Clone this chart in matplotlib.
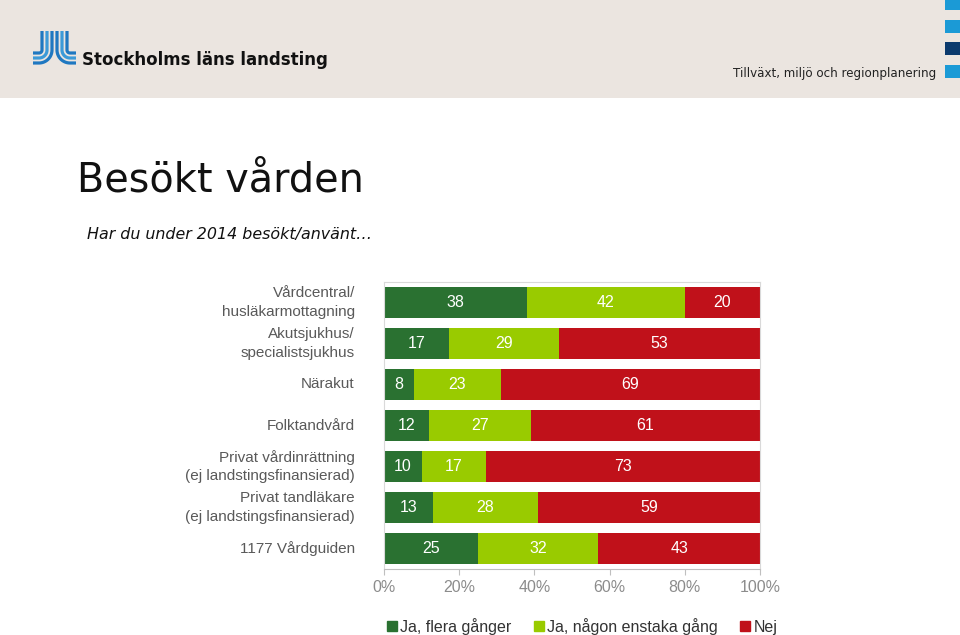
import matplotlib.pyplot as plt
import numpy as np
from matplotlib.patches import Rectangle
from matplotlib.lines import Line2D

plt.rcParams["font.family"] = ["Liberation Sans", "DejaVu Sans"]

# ===== DATA =====
categories = [
    "Vårdcentral/\nhusläkarmottagning",
    "Akutsjukhus/\nspecialistsjukhus",
    "Närakut",
    "Folktandvård",
    "Privat vårdinrättning\n(ej landstingsfinansierad)",
    "Privat tandläkare\n(ej landstingsfinansierad)",
    "1177 Vårdguiden",
]
flera = [38, 17, 8, 12, 10, 13, 25]
enstaka = [42, 29, 23, 27, 17, 28, 32]
nej = [20, 53, 69, 61, 73, 59, 43]
series_names = ["Ja, flera gånger", "Ja, någon enstaka gång", "Nej"]
colors = ["#2a7131", "#99cb00", "#c0111a"]
xticks = [0, 20, 40, 60, 80, 100]

fig = plt.figure(figsize=(9.6, 6.35), dpi=100)

# ===== HEADER (pixel coords overlay) =====
bg = fig.add_axes([0, 0, 1, 1], zorder=0)
bg.set_xlim(0, 960)
bg.set_ylim(635, 0)
bg.axis("off")
bg.add_patch(Rectangle((0, 0), 960, 98, color="#ebe5e0", lw=0))
for y0, h, c in [(0, 10, "#1b9ad6"), (20, 13, "#1b9ad6"), (42, 13, "#0b3a6d"), (65, 13, "#1b9ad6")]:
    bg.add_patch(Rectangle((945, y0), 15, h, color=c, lw=0))

# logo: JL symbol
t = np.linspace(0, np.pi / 2, 20)
for i, c in enumerate(["#1f78c1", "#3c9ad8", "#1f78c1"]):
    r = 3 + i * 5
    xv = 42 + i * 5
    xs = np.r_[xv, xv, xv - r + r * np.cos(t), 33]
    ys = np.r_[31, 50, 50 + r * np.sin(t), 50 + r]
    bg.plot(xs, ys, color=c, lw=2.3, solid_capstyle="butt")
    xl = 67 - i * 5
    xs = np.r_[xl, xl, xl + r - r * np.cos(t), 76]
    bg.plot(xs, ys, color=c, lw=2.3, solid_capstyle="butt")
bg.text(82, 60, "Stockholms läns landsting", fontsize=12, fontweight="bold",
        color="#111111", va="center", ha="left", family=["DejaVu Sans"])
bg.text(936, 73, "Tillväxt, miljö och regionplanering", fontsize=8.6,
        color="#222222", va="center", ha="right", family=["DejaVu Sans"])

# title and subtitle
bg.text(77, 180, "Besökt vården", fontsize=28.6, color="#111111", va="center",
        ha="left", family=["DejaVu Sans"])
bg.text(87, 235, "Har du under 2014 besökt/använt…", fontsize=11.4, style="italic",
        color="#111111", va="center", ha="left", family=["DejaVu Sans"])

# ===== CHART =====
ax = fig.add_axes([384 / 960, 1 - 569 / 635, 376 / 960, 287 / 635], zorder=1)
data = np.array([flera, enstaka, nej], dtype=float)
pct = data / data.sum(axis=0) * 100
y = np.arange(len(categories))
left = np.zeros(len(categories))
for k in range(3):
    ax.barh(y, pct[k], left=left, height=0.78, color=colors[k], label=series_names[k])
    for i in range(len(categories)):
        ax.text(left[i] + pct[k][i] / 2, y[i], f"{int(data[k][i])}", ha="center",
                va="center", color="white", fontsize=11.5)
    left += pct[k]

ax.set_xlim(0, 100)
ax.set_ylim(6.5, -0.5)
ax.set_yticks(y)
ax.set_yticklabels(categories, fontsize=11, color="#595959", linespacing=1.45)
for lab in ax.get_yticklabels():
    lab.set_va("center")
ax.tick_params(axis="y", length=0, pad=21)
ax.set_xticks(xticks)
ax.set_xticklabels([f"{v}%" for v in xticks], fontsize=11.5, color="#8c8c8c")
ax.tick_params(axis="x", length=4, color="#bfbfbf", pad=4, direction="out")
for s in ["top", "right", "left"]:
    ax.spines[s].set_color("#d9d9d9")
    ax.spines[s].set_linewidth(0.8)
ax.spines["bottom"].set_color("#bfbfbf")

handles = [Line2D([], [], marker="s", ls="", color=c, markersize=6.5) for c in colors]
fig.legend(handles, series_names, loc="center", bbox_to_anchor=(0.605, 0.014),
           ncol=3, frameon=False, fontsize=11.5, handletextpad=0.05,
           columnspacing=1.3, handlelength=0.9, labelcolor="#333333")

fig.savefig("out.png", dpi=100)
